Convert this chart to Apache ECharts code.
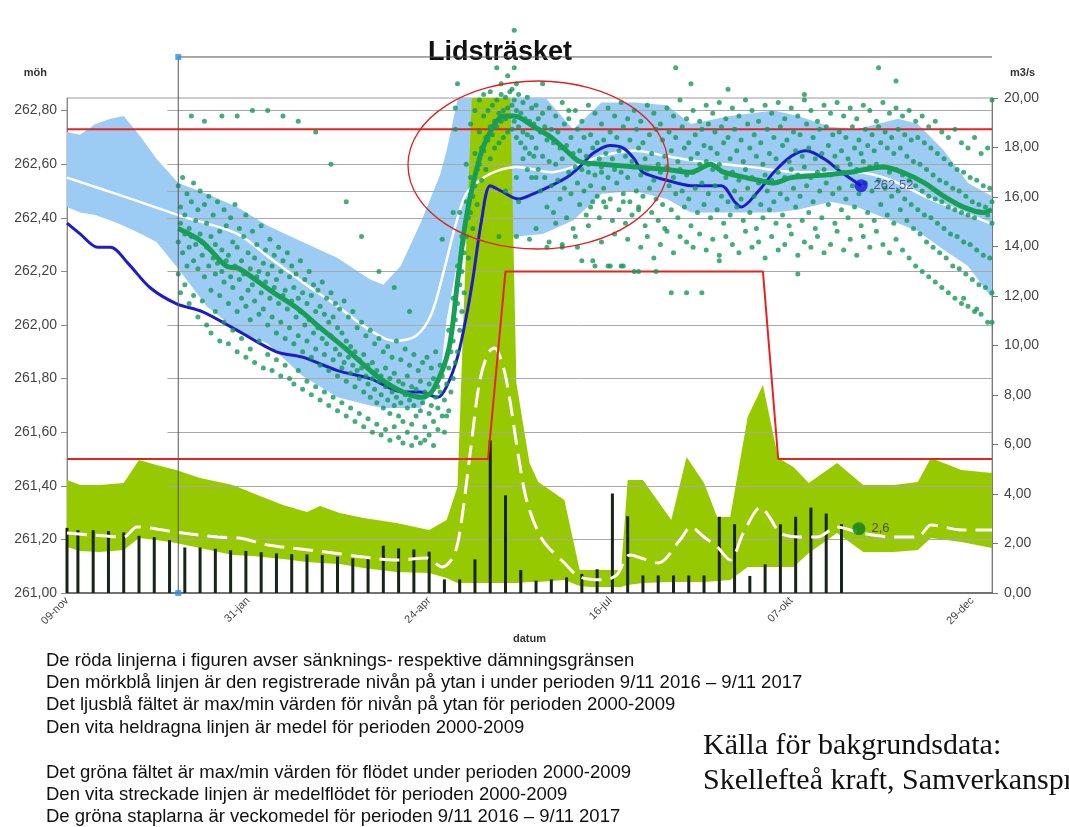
<!DOCTYPE html>
<html>
<head>
<meta charset="utf-8">
<script src="https://cdn.jsdelivr.net/npm/echarts@6/dist/echarts.min.js"></script>
<style>
html,body{margin:0;padding:0;background:#fff}
#chart{width:1069px;height:827px}
</style>
</head>
<body>
<div id="chart"></div>
<script>
// dagar räknas från 09-nov 2016
const months = ["jan","feb","mar","apr","maj","jun","jul","aug","sep","okt","nov","dec"]

/** nivå max/min 2000-2009 (möh) */
const levelDays = [0,6,13,20,26,34,41,51,64,78,92,108,124,139,145,153,162,171,174,179,185,194,206,218,232,245,260,275,286,304,324,335,350,362,381,390,402,413,424]
const levelMax = [262.72,262.71,262.75,262.77,262.78,262.70,262.62,262.53,262.49,262.44,262.37,262.31,262.25,262.17,262.15,262.22,262.38,262.56,262.65,262.84,262.86,262.86,262.86,262.86,262.73,262.83,262.83,262.82,262.75,262.78,262.80,262.78,262.74,262.73,262.77,262.75,262.65,262.53,262.48]
const levelMin = [262.44,262.42,262.41,262.39,262.37,262.34,262.31,262.21,262.07,261.98,261.93,261.81,261.73,261.70,261.69,261.69,261.69,261.80,262.02,262.24,262.34,262.32,262.33,262.34,262.39,262.49,262.50,262.47,262.42,262.42,262.42,262.43,262.46,262.44,262.38,262.35,262.28,262.22,262.10]

/** nivå medel 2000-2009 */
const meanDays = [0,26,51,78,93,108,124,139,150,160,167,173,178,183,191,199,206,222,232,245,260,275,290,313,336,362,378,393,408,423]
const meanVals = [262.55,262.48,262.41,262.34,262.25,262.16,262.07,261.98,261.94,261.96,262.04,262.21,262.37,262.49,262.55,262.58,262.59,262.57,262.59,262.63,262.65,262.63,262.61,262.59,262.57,262.57,262.54,262.48,262.43,262.38]

/** registrerad nivå 2016-2017 */
const regDays = [0,6,14,20,28,38,50,62,78,96,108,124,139,154,162,170,174,179,183,186,190,194,199,207,214,222,229,235,241,249,255,260,264,275,286,300,306,309,317,324,332,339,347,355,364]
const regVals = [262.38,262.34,262.29,262.29,262.23,262.14,262.08,262.05,261.98,261.90,261.88,261.83,261.80,261.75,261.75,261.73,261.77,261.88,262.03,262.17,262.39,262.52,262.50,262.47,262.49,262.52,262.55,262.59,262.64,262.67,262.66,262.62,262.57,262.54,262.52,262.52,262.46,262.44,262.50,262.57,262.63,262.65,262.62,262.57,262.52]

/** glidande medel av punkterna */
const avgDays = [51,62,73,79,93,106,116,128,142,154,163,168,175,179,183,189,194,200,205,214,222,229,235,245,260,275,286,295,301,317,324,332,347,359,374,383,393,402,411,420,424]
const avgVals = [262.36,262.31,262.22,262.21,262.13,262.06,261.99,261.91,261.81,261.75,261.73,261.76,261.91,262.16,262.40,262.62,262.72,262.78,262.78,262.74,262.70,262.65,262.61,262.60,262.59,262.58,262.57,262.60,262.57,262.54,262.53,262.55,262.56,262.57,262.59,262.57,262.53,262.48,262.44,262.42,262.43]

/** sänknings- och dämningsgräns */
const redTop = 262.73
const redLowDays = [0,193,201,319,326,424]
const redLowVals = [261.5,261.5,262.2,262.2,261.5,261.5]

/** flöde max/min 2000-2009 (m3/s) */
const flowDays = [0,6,15,26,33,41,50,61,76,85,99,110,116,125,136,151,166,174,179,182,186,203,206,212,216,228,235,240,254,257,264,277,284,292,298,304,312,319,326,333,340,353,365,379,390,396,410,424]
const flowMax = [4.57,4.36,4.36,4.44,5.37,5.17,4.97,4.65,4.36,4.04,3.56,3.27,3.52,3.23,3.03,2.83,2.55,2.95,4.28,11.8,21,21,8.48,5.25,4.48,3.76,0.93,0.93,0.93,4.57,4.57,2.95,5.49,4.44,3.07,3.07,7.11,8.40,5.45,5.09,4.44,5.25,4.36,4.36,4.48,5.45,4.97,4.85]
const flowMin = [1.86,1.70,1.66,1.74,2.22,2.14,2.02,1.82,1.54,1.49,1.37,1.25,1.21,1.17,1.01,0.85,0.81,0.61,0.40,0.40,0.40,0.40,0.40,0.44,0.44,0.53,0.28,0.24,0.24,0.32,0.40,0.44,0.44,0.44,0.48,0.53,1.05,1.05,1.05,1.05,1.62,2.42,1.66,1.66,1.74,2.22,2.06,1.82]

/** medelflöde 2000-2009 */
const flowMeanDays = [0,12,26,32,38,50,69,79,92,107,122,136,151,165,172,177,180,185,189,193,196,200,203,207,211,218,228,235,246,252,258,271,281,286,292,298,304,310,318,322,327,336,344,353,364,379,390,396,410,424]
const flowMean = [2.42,2.34,2.26,2.67,2.63,2.46,2.26,2.22,1.94,1.78,1.62,1.45,1.33,1.41,1.05,1.45,2.42,5.78,8.48,9.70,9.90,9.13,7.80,5.49,3.64,2.14,1.21,0.65,0.53,0.73,1.54,1.21,2.14,2.67,2.26,1.86,1.33,2.42,3.47,3.07,2.42,2.26,2.26,2.67,2.42,2.26,2.26,2.75,2.55,2.55]

/** veckomedel 2016-2017 */
const weekDays = [0,5,12,19,26,33,40,47,54,61,68,75,82,89,96,103,110,117,124,131,138,145,152,159,166,173,180,187,194,201,208,215,222,229,236,243,250,257,264,271,278,285,292,299,306,313,320,327,334,341,348,355]
const weekFlow = [2.63,2.54,2.54,2.50,2.45,2.31,2.26,2.14,1.84,1.84,1.79,1.73,1.70,1.65,1.60,1.57,1.56,1.53,1.47,1.40,1.46,1.91,1.80,1.76,1.67,0.55,0.55,1.36,6.17,3.95,0.93,0.50,0.55,0.63,0.77,0.96,4.02,3.10,0.71,0.71,0.71,0.71,0.71,3.08,2.78,0.69,1.16,2.78,3.08,3.45,3.21,2.78]

/** senaste värden */
const lastLevel = [364,262.52]
const lastFlow = [363,2.6]

/** nivåpunkter: [dag, nivå, nivå, ...] */
const dotRows = [
    [51,262.52,262.31,262.19],[52,262.44,262.38,262.12],[53,262.55,262.27],[54,262.41,262.34,262.15],[55,262.49,262.22],
    [56,262.36,262.29,262.08],[57,262.46,262.33],[58,262.53,262.24,262.11],[59,262.39,262.30],[60,262.43,262.21,262.03],
    [61,262.50,262.34],[62,262.31,262.26,262.09],[63,262.45,262.18],[64,262.38,262.29,262.00],[65,262.48,262.22],
    [66,262.33,262.13,261.97],[67,262.41,262.25],[68,262.30,262.19,262.05],[69,262.46,262.23],[70,262.35,262.11,261.94],
    [71,262.28,262.20],[72,262.43,262.16,262.01],[73,262.37,262.24],[74,262.26,262.08,261.93],[75,262.40,262.18],
    [76,262.31,262.14,261.98],[77,262.45,262.22],[78,262.29,262.05,261.90],[79,262.36,262.17],[80,262.24,262.10,261.95],
    [81,262.33,262.19],[82,262.41,262.07,261.88],[83,262.27,262.13],[84,262.21,262.02,261.91],[85,262.35,262.15],
    [86,262.25,262.09,261.86],[87,262.30,262.18],[88,262.20,262.04,261.94],[89,262.37,262.12],[90,262.23,262.06,261.84],
    [91,262.28,262.16],[92,262.19,262.00,261.89],[93,262.32,262.10],[94,262.22,262.03,261.83],[95,262.26,262.14],
    [96,262.17,261.97,261.87],[97,262.29,262.08],[98,262.20,262.01,261.81],[99,262.24,262.11],[100,262.13,261.95,261.85],
    [101,262.27,262.06],[102,262.18,261.99,261.80],[103,262.22,262.09],[104,262.14,261.93,261.78],[105,262.19,262.03],
    [106,262.10,261.96,261.83],[107,262.24,262.05],[108,262.12,261.90,261.76],[109,262.17,262.00],[110,262.08,261.94,261.79],
    [111,262.20,262.02],[112,262.11,261.88,261.74],[113,262.15,261.97],[114,262.05,261.91,261.77],[115,262.13,261.99],
    [116,262.07,261.85,261.72],[117,262.16,261.95],[118,262.04,261.89,261.75],[119,262.10,261.93],[120,262.01,261.83,261.70],
    [121,262.12,261.96],[122,262.03,261.87,261.73],[123,262.08,261.91],[124,261.99,261.81,261.68],[125,262.06,261.89],
    [126,261.97,261.84,261.71],[127,262.09,261.86],[128,261.94,261.79,261.66],[129,262.03,261.88],[130,261.92,261.82,261.69],
    [131,262.05,261.85],[132,261.90,261.77,261.64],[133,261.99,261.83],[134,261.87,261.80,261.67],[135,262.01,261.84],
    [136,261.89,261.75,261.62],[137,261.96,261.81],[138,261.85,261.78,261.65],[139,261.98,261.73],[140,261.86,261.80,261.60],
    [141,261.93,261.76],[142,261.83,261.71,261.63],[143,261.95,261.79],[144,261.81,261.74,261.59],[145,261.90,261.69],
    [146,261.84,261.77,261.61],[147,261.92,261.72],[148,261.80,261.67,261.57],[149,261.88,261.75],[150,261.82,261.70,261.62],
    [151,261.94,261.73],[152,261.79,261.66,261.58],[153,261.87,261.71],[154,261.78,261.64,261.56],[155,261.91,261.74],
    [156,261.81,261.69,261.60],[157,261.85,261.72],[158,261.77,261.63,261.55],[159,261.89,261.70],[160,261.76,261.66,261.58],
    [161,261.83,261.73],[162,261.79,261.68,261.56],[163,261.86,261.71],[164,261.75,261.62,261.57],[165,261.88,261.74],
    [166,261.78,261.67,261.59],[167,261.84,261.70],[168,261.80,261.64,261.55],[169,261.90,261.73],[170,261.77,261.69,261.61],
    [171,261.85,261.75],[172,261.81,261.66],
    [173,261.85,261.72,261.60],[174,261.78,261.66],
    [175,261.98,261.84,261.68],[176,261.90,261.75],
    [177,262.10,261.94,261.80],[178,262.02,261.86],
    [179,262.22,262.08,261.90],[180,262.15,261.98],
    [181,262.33,262.20,262.05],[182,262.27,262.12],
    [183,262.46,262.33,262.60],[184,262.40,262.25],
    [185,262.55,262.42,262.75],[186,262.48,262.36],
    [187,262.64,262.52,262.80],[188,262.58,262.45],
    [189,262.72,262.60,262.84],[190,262.66,262.54],
    [191,262.78,262.65,262.86],[192,262.70,262.58],
    [193,262.80,262.69],[194,262.74,262.62],
    [195,262.82,262.71],[196,262.76,262.66],
    [197,262.84,262.74],[198,262.79,262.68],
    [199,262.86,262.76],[200,262.80,262.70],
    [201,262.85,262.77,262.50],[202,262.81,262.72],
    [203,262.87,262.78],[204,262.82,262.73],
    [205,262.84,262.76],[206,262.80,262.70],
    [207,262.86,262.74,262.46],[208,262.79,262.68],
    [209,262.83,262.72,262.62],[210,262.77,262.66],
    [211,262.85,262.71,262.58],[212,262.76,262.64],
    [213,262.81,262.70,262.55],[214,262.75,262.63],
    [215,262.82,262.66,262.36],[216,262.77,262.58],[217,262.72,262.50],
    [218,262.79,262.63],[219,262.74,262.55],[220,262.69,262.44],
    [221,262.81,262.61,262.31],[222,262.73,262.52],[223,262.68,262.42],
    [224,262.78,262.60,262.38],[225,262.72,262.54],[226,262.66,262.47],
    [227,262.83,262.62,262.30],[228,262.75,262.51],[229,262.67,262.40],
    [230,262.77,262.57,262.80],[231,262.70,262.49],[232,262.64,262.36],
    [233,262.80,262.59,262.33],[234,262.73,262.53],[235,262.65,262.45],
    [236,262.76,262.58,262.24],[237,262.70,262.50],[238,262.63,262.41],
    [239,262.82,262.60,262.37],[240,262.71,262.52],[241,262.66,262.46],
    [242,262.79,262.56,262.22],[243,262.68,262.48],[244,262.62,262.40],
    [245,262.75,262.59,262.31],[246,262.69,262.51],[247,262.64,262.44],
    [248,262.81,262.55,262.22],[249,262.72,262.47],[250,262.62,262.39],
    [251,262.78,262.58,262.34],[252,262.70,262.53],[253,262.65,262.43],
    [254,262.83,262.57,262.22],[255,262.74,262.49],[256,262.63,262.38],
    [257,262.77,262.55,262.32],[258,262.69,262.46],[259,262.61,262.41],
    [260,262.80,262.59,262.20],[261,262.73,262.50],[262,262.66,262.44],
    [263,262.76,262.56,262.29],[264,262.68,262.48],[265,262.62,262.37],
    [266,262.82,262.58,262.33],[267,262.71,262.51],[268,262.64,262.42],
    [269,262.79,262.54,262.25],[270,262.73,262.47],[271,262.60,262.39],
    [272,262.75,262.57,262.30],[273,262.69,262.45],[274,262.63,262.36],
    [275,262.81,262.59,262.35],[276,262.72,262.52],[277,262.65,262.43],
    [278,262.78,262.55,262.27],[279,262.70,262.49],[280,262.61,262.40],
    [281,262.84,262.58,262.33],[282,262.74,262.50],[283,262.66,262.44],
    [284,262.77,262.56,262.31],[285,262.68,262.47],[286,262.62,262.37],
    [287,262.80,262.57,262.29],[288,262.71,262.51],[289,262.64,262.42],
    [290,262.76,262.60,262.34],[291,262.73,262.53],[292,262.67,262.45],
    [293,262.82,262.61,262.28],[294,262.75,262.49],[295,262.66,262.40],
    [296,262.79,262.58,262.32],[297,262.72,262.52],[298,262.64,262.43],
    [299,262.83,262.60,262.26],[300,262.74,262.48],[301,262.68,262.38],
    [302,262.77,262.55,262.33],[303,262.70,262.46],[304,262.62,262.41],
    [305,262.81,262.57,262.30],[306,262.73,262.50],[307,262.65,262.44],
    [308,262.78,262.54,262.27],[309,262.69,262.47],[310,262.61,262.39],
    [311,262.84,262.58,262.35],[312,262.75,262.51],[313,262.66,262.42],
    [314,262.80,262.55,262.29],[315,262.71,262.48],[316,262.63,262.36],
    [317,262.76,262.53,262.31],[318,262.68,262.45],[319,262.60,262.40],
    [320,262.82,262.56,262.25],[321,262.73,262.50],[322,262.64,262.43],
    [323,262.79,262.54,262.33],[324,262.70,262.46],[325,262.62,262.38],
    [326,262.83,262.57,262.28],[327,262.74,262.49],[328,262.67,262.41],
    [329,262.77,262.55,262.30],[330,262.69,262.47],[331,262.61,262.37],
    [332,262.81,262.58,262.34],[333,262.72,262.51],[334,262.65,262.44],
    [335,262.78,262.56,262.26],[336,262.71,262.48],[337,262.63,262.39],
    [338,262.84,262.59,262.31],[339,262.75,262.52],[340,262.66,262.42],
    [341,262.80,262.55,262.29],[342,262.70,262.46],[343,262.62,262.36],
    [344,262.76,262.57,262.33],[345,262.73,262.50],[346,262.64,262.40],
    [347,262.82,262.58,262.27],[348,262.74,262.53],[349,262.67,262.45],
    [350,262.79,262.56,262.30],[351,262.71,262.49],[352,262.63,262.38],
    [353,262.83,262.59,262.35],[354,262.72,262.51],[355,262.65,262.43],
    [356,262.78,262.57,262.28],[357,262.70,262.47],[358,262.62,262.40],
    [359,262.81,262.60,262.32],[360,262.74,262.52],[361,262.66,262.44],
    [362,262.77,262.58,262.26],[363,262.69,262.49],[364,262.64,262.37],
    [365,262.82,262.61,262.33],[366,262.73,262.53],[367,262.67,262.42],
    [368,262.80,262.59,262.29],[369,262.71,262.50],[370,262.65,262.39],
    [371,262.76,262.60,262.35],[372,262.74,262.54],[373,262.68,262.45],
    [374,262.83,262.59,262.30],[375,262.72,262.51],[376,262.66,262.41],
    [377,262.79,262.57,262.27],[378,262.70,262.48],[379,262.64,262.38],
    [380,262.81,262.58,262.32],[381,262.73,262.50],[382,262.66,262.43],
    [383,262.78,262.56,262.28],[384,262.71,262.47],[385,262.63,262.39],
    [386,262.80,262.54,262.25],[387,262.69,262.45],[388,262.61,262.36],
    [389,262.76,262.52,262.22],[390,262.70,262.43],[391,262.60,262.34],
    [392,262.78,262.50,262.20],[393,262.68,262.41],[394,262.58,262.31],
    [395,262.74,262.48,262.18],[396,262.66,262.40],[397,262.56,262.29],
    [398,262.76,262.47,262.16],[399,262.64,262.38],[400,262.54,262.27],
    [401,262.72,262.46,262.14],[402,262.62,262.36],[403,262.53,262.25],
    [404,262.70,262.44,262.12],[405,262.60,262.34],[406,262.51,262.22],
    [407,262.73,262.43,262.10],[408,262.58,262.33],[409,262.50,262.21],
    [410,262.68,262.42,262.08],[411,262.57,262.31],[412,262.48,262.19],
    [413,262.66,262.41,262.07],[414,262.55,262.30],[415,262.46,262.17],
    [416,262.70,262.40,262.05],[417,262.54,262.28],[418,262.45,262.15],
    [419,262.64,262.42,262.04],[420,262.52,262.26],[421,262.44,262.14],
    [422,262.66,262.41,262.01],[423,262.51,262.25],[424,262.46,262.12,262.84,262.38]
]
/** avvikande punkter */
const dotExtra = [
    [57,262.78],[63,262.76],[71,262.78],[78,262.78],[85,262.80],[92,262.80],[99,262.78],[106,262.76],[114,262.72],[121,262.60],
    [128,262.46],[135,262.33],[143,262.20],[150,262.14],[157,262.05],[172,262.32],[177,262.42],[180,262.42],[178,262.81],[178,262.73],
    [179,262.90],[194,262.87],[197,262.96],[199,262.90],[202,262.93],[204,262.88],[205,262.96],[206,262.90],[205,263.10],[218,262.90],
    [206,262.55],[215,262.55],[239,262.57],[245,262.57],[240,262.44],[246,262.46],[255,262.46],[262,262.43],[198,262.33],[206,262.33],
    [212,262.32],[220,262.29],[227,262.29],[234,262.29],[241,262.24],[249,262.22],[255,262.22],[262,262.20],[270,262.20],[277,262.12],
    [284,262.12],[291,262.12],[279,262.96],[286,262.90],[303,262.88],[338,262.86],[372,262.96],[380,262.91],[299,262.24],[335,262.19],
    [411,262.10],[417,262.06],[424,262.01]
]

/** stödlinjer från den överlagrade bilden */
const gridLevels = [261.2,261.4,261.6,261.8,262.0,262.2,262.4,262.5,262.6,262.8]
const frameDays = [51,51,424]
const frameVals = [261,263,263]

const texts = [
    "De röda linjerna i figuren avser sänknings- respektive dämningsgränsen",
    "Den mörkblå linjen är den registrerade nivån på ytan i under perioden 9/11 2016 – 9/11 2017",
    "Det ljusblå fältet är max/min värden för nivån på ytan för perioden 2000-2009",
    "Den vita heldragna linjen är medel för perioden 2000-2009",
    "",
    "Det gröna fältet är max/min värden för flödet under perioden 2000-2009",
    "Den vita streckade linjen är medelflödet för perioden 2000-2009",
    "De gröna staplarna är veckomedel för perioden 9/11 2016 – 9/11 2017"
]

let chart = echarts.init(document.getElementById("chart"))

const zip = (xs,ys)=>xs.map((x,i)=>[x,ys[i]])
const comma = (v,n)=>v.toFixed(n).replace(".",",")
function dayLabel(v){
    let d = new Date(Date.UTC(2016,10,9) + v*86400000)
    return String(d.getUTCDate()).padStart(2,"0")+"-"+months[d.getUTCMonth()]
}

/** fält mellan två kurvor, ritat genom axlarnas skalor */
function bandSeries(days,lo,hi,yAxisIndex,color,z){
    return {
        type:"custom",z:z,yAxisIndex:yAxisIndex,clip:true,silent:true,
        data:[[days[0],lo[0]]],
        renderItem:(params,api)=>{
            let top = days.map((d,i)=>api.coord([d,hi[i]]))
            let bottom = days.map((d,i)=>api.coord([d,lo[i]])).reverse()
            return {type:"polygon",shape:{points:top.concat(bottom)},style:{fill:color}}
        }
    }
}

let dots = dotRows.flatMap(([d,...vs])=>vs.map(v=>[d,v])).concat(dotExtra)

let option = {
    animation:false,
    backgroundColor:"#fff",
    title:{
        text:"Lidsträsket",left:495,top:34,textAlign:"center",
        textStyle:{fontFamily:"Liberation Sans",fontSize:27,fontWeight:"bold",color:"#111"}
    },
    grid:{left:67,right:77,top:98,bottom:234,show:true,borderColor:"#9a9a9a",borderWidth:1,containLabel:false,outerBoundsMode:"none"},
    xAxis:{
        type:"value",min:0,max:424,interval:83,
        name:"datum",nameLocation:"middle",nameGap:36,
        nameTextStyle:{fontFamily:"Liberation Sans",fontSize:11,fontWeight:"bold",color:"#333"},
        axisLine:{show:true,lineStyle:{color:"#555",width:1.5}},
        axisTick:{show:false},
        splitLine:{show:false},
        axisLabel:{rotate:45,fontSize:11,color:"#444",fontFamily:"Liberation Sans",showMaxLabel:false,margin:6,formatter:dayLabel}
    },
    yAxis:[{
        type:"value",min:261,max:262.847,interval:0.2,
        name:"möh",nameLocation:"end",nameGap:20,
        nameTextStyle:{fontFamily:"Liberation Sans",fontSize:11,fontWeight:"bold",color:"#333",align:"right",padding:[0,20,0,0]},
        axisLine:{show:true,lineStyle:{color:"#888"}},
        axisTick:{show:true,length:6,lineStyle:{color:"#888"}},
        splitLine:{show:false},
        axisLabel:{fontSize:14,color:"#444",fontFamily:"Liberation Sans",margin:10,showMaxLabel:false,formatter:v=>comma(v,2)}
    },{
        type:"value",min:0,max:20,interval:2,
        name:"m3/s",nameLocation:"end",nameGap:20,
        nameTextStyle:{fontFamily:"Liberation Sans",fontSize:11,fontWeight:"bold",color:"#333",align:"left",padding:[0,0,0,18]},
        axisLine:{show:true,lineStyle:{color:"#777"}},
        axisTick:{show:true,length:6,lineStyle:{color:"#777"}},
        splitLine:{show:false},
        axisLabel:{fontSize:14,color:"#444",fontFamily:"Liberation Sans",margin:12,formatter:v=>comma(v,2)}
    }],
    series:[
        // ljusblått fält
        bandSeries(levelDays,levelMin,levelMax,0,"#9ccbf4",1),
        // grönt fält
        bandSeries(flowDays,flowMin,flowMax,1,"#97c900",2),
        // stödlinjer
        {type:"line",z:3,symbol:"none",data:[],
            markLine:{z:3,silent:true,symbol:"none",label:{show:false},lineStyle:{color:"#a8a8a8",width:1,type:"solid"},
                data:gridLevels.map(v=>[{coord:[46,v]},{coord:[424,v]}])}},
        // vit medellinje nivå
        {type:"line",z:4,symbol:"none",smooth:0.3,lineStyle:{color:"#fff",width:2.5},data:zip(meanDays,meanVals)},
        // vit streckad medelflöde
        {type:"line",z:4,yAxisIndex:1,symbol:"none",smooth:0.3,lineStyle:{color:"#fff",width:3,type:[20,9]},data:zip(flowMeanDays,flowMean)},
        // veckomedel
        {type:"bar",z:4,yAxisIndex:1,barWidth:3,itemStyle:{color:"#16241a"},data:zip(weekDays,weekFlow)},
        // röda gränser
        {type:"line",z:4,symbol:"none",lineStyle:{color:"#e8231f",width:2},data:[[0,redTop],[424,redTop]]},
        {type:"line",z:4,symbol:"none",lineStyle:{color:"#e8231f",width:2},data:zip(redLowDays,redLowVals)},
        // registrerad nivå
        {type:"line",z:5,symbol:"none",smooth:0.3,lineStyle:{color:"#1c1cc8",width:3},data:zip(regDays,regVals)},
        // punkter
        {type:"scatter",z:5,clip:false,symbolSize:5,itemStyle:{color:"#15985a"},data:dots},
        // glidande medel
        {type:"line",z:6,symbol:"none",smooth:0.3,lineStyle:{color:"#17a055",width:5},data:zip(avgDays,avgVals)},
        // ram från överlagrad bild
        {type:"line",z:6,clip:false,symbol:"none",lineStyle:{color:"#555",width:1},data:zip(frameDays,frameVals)},
        {type:"scatter",z:7,clip:false,symbol:"rect",symbolSize:6,itemStyle:{color:"#2f8fe6"},data:[[51,263],[51,261]]},
        // senaste värden
        {type:"scatter",z:7,symbolSize:13,itemStyle:{color:"#1414d8"},data:[lastLevel],
            label:{show:true,position:"right",distance:6,fontSize:13,color:"#3b3b60",fontFamily:"Liberation Sans",formatter:p=>comma(p.value[1],2)}},
        {type:"scatter",z:7,yAxisIndex:1,symbolSize:13,itemStyle:{color:"#0e7d22"},data:[lastFlow],
            label:{show:true,position:"right",distance:6,fontSize:13,color:"#333",fontFamily:"Liberation Sans",formatter:p=>comma(p.value[1],1)}}
    ],
    graphic:[
        {type:"ellipse",z:100,shape:{cx:538,cy:165,rx:130,ry:84},style:{fill:null,stroke:"#e02020",lineWidth:1.3}},
        ...texts.map((t,i)=>({type:"text",left:46,top:651+i*22.4,style:{text:t,font:'18.5px "Liberation Sans"',fill:"#111"}})),
        {type:"text",left:703,top:731,style:{text:"Källa för bakgrundsdata:",font:'30px "Liberation Serif"',fill:"#111"}},
        {type:"text",left:703,top:766,style:{text:"Skellefteå kraft, Samverkansprojekt",font:'30px "Liberation Serif"',fill:"#111"}}
    ]
}

chart.setOption(option)
</script>
</body>
</html>
